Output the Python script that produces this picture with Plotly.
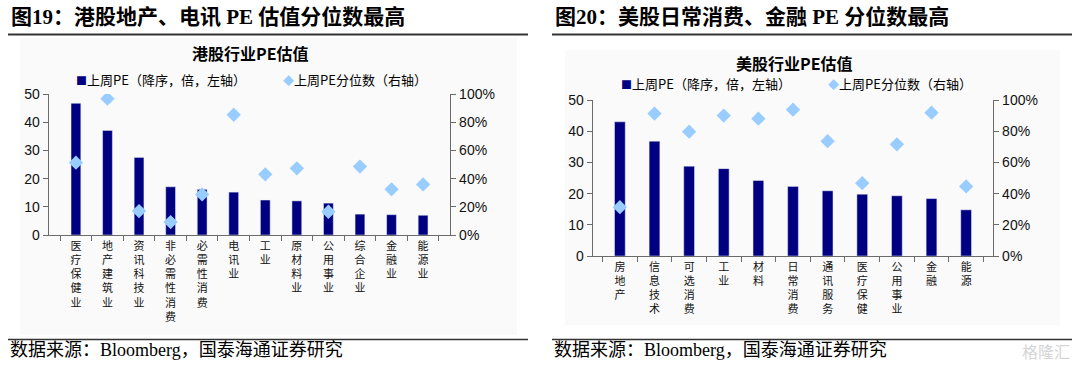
import plotly.graph_objects as go

W, H = 1080, 366

# ---------- data ----------
hk_categories = ["医疗保健业", "地产建筑业", "资讯科技业", "非必需性消费", "必需性消费", "电讯业",
                 "工业", "原材料业", "公用事业", "综合企业", "金融业", "能源业"]
hk_pe = [46.7, 37.1, 27.5, 17.1, 16.2, 15.2, 12.4, 12.1, 11.3, 7.4, 7.2, 7.0]
hk_pct = [0.513, 0.967, 0.170, 0.092, 0.288, 0.853, 0.430, 0.473, 0.165, 0.485, 0.324, 0.359]

us_categories = ["房地产", "信息技术", "可选消费", "工业", "材料", "日常消费",
                 "通讯服务", "医疗保健", "公用事业", "金融", "能源"]
us_pe = [43.0, 36.8, 28.8, 28.0, 24.2, 22.3, 20.9, 19.8, 19.3, 18.4, 14.8]
us_pct = [0.313, 0.913, 0.797, 0.900, 0.880, 0.938, 0.736, 0.467, 0.716, 0.919, 0.446]

pe_ticks = [0, 10, 20, 30, 40, 50]
pct_ticks = [0, 0.2, 0.4, 0.6, 0.8, 1.0]

# ---------- style ----------
BAR = "#000080"
DIA = "#99CCFF"
AX = "#6b6b6b"
SANS = "Liberation Sans, Arial, Noto Sans CJK SC, sans-serif"
SERIF = "Liberation Serif, Times New Roman, Noto Sans CJK SC, serif"
CJK = "Noto Sans CJK SC, sans-serif"


def px_x(p):
    return p / W


def px_y(p):
    return 1 - p / H


def vlabel(s):
    return "<br>".join(list(s))


hk_labels = [vlabel(c) for c in hk_categories]
us_labels = [vlabel(c) for c in us_categories]

fig = go.Figure()
fig.add_trace(go.Bar(x=hk_labels, y=hk_pe, marker_color=BAR, width=0.31,
                     xaxis="x", yaxis="y", showlegend=False))
fig.add_trace(go.Scatter(x=hk_labels, y=hk_pct, mode="markers",
                         marker=dict(symbol="diamond", size=11, color=DIA),
                         xaxis="x", yaxis="y2", showlegend=False))
fig.add_trace(go.Bar(x=us_labels, y=us_pe, marker_color=BAR, width=0.31,
                     xaxis="x3", yaxis="y3", showlegend=False))
fig.add_trace(go.Scatter(x=us_labels, y=us_pct, mode="markers",
                         marker=dict(symbol="diamond", size=11, color=DIA),
                         xaxis="x3", yaxis="y4", showlegend=False))

xcommon = dict(type="category", showline=True, linecolor=AX, linewidth=1.3,
               ticks="outside", tickson="boundaries", ticklen=5, tickcolor=AX,
               showgrid=False, zeroline=False, automargin=False,
               tickfont=dict(family=CJK, size=11, color="#111"), tickangle=0)
ycommon = dict(showline=True, linecolor=AX, linewidth=1.3, ticks="outside",
               ticklen=5, tickcolor=AX, showgrid=False, zeroline=False,
               automargin=False,
               tickfont=dict(family=SANS, size=14, color="#111"))

fig.update_layout(
    width=W, height=H, autosize=False, margin=dict(l=0, r=0, t=0, b=0, pad=0),
    paper_bgcolor="white", plot_bgcolor="rgba(0,0,0,0)",
    bargap=0.6,
    xaxis=dict(domain=[px_x(49), px_x(450)], anchor="y", **xcommon),
    yaxis=dict(domain=[px_y(235), px_y(94)], range=[0, 50], tickvals=pe_ticks,
               anchor="x", side="left", **ycommon),
    yaxis2=dict(range=[0, 1], tickvals=pct_ticks, tickformat=".0%",
                overlaying="y", anchor="x", side="right", **ycommon),
    xaxis3=dict(domain=[px_x(593), px_x(993)], anchor="y3", **xcommon),
    yaxis3=dict(domain=[px_y(256), px_y(100)], range=[0, 50], tickvals=pe_ticks,
                anchor="x3", side="left", **ycommon),
    yaxis4=dict(range=[0, 1], tickvals=pct_ticks, tickformat=".0%",
                overlaying="y3", anchor="x3", side="right", **ycommon),
)

shapes = []
# faint chart background boxes
shapes.append(dict(type="rect", xref="paper", yref="paper", layer="below",
                   x0=px_x(20), x1=px_x(517), y0=px_y(335), y1=px_y(38),
                   fillcolor="#fafafa", line=dict(width=0)))
shapes.append(dict(type="rect", xref="paper", yref="paper", layer="below",
                   x0=px_x(565), x1=px_x(1060), y0=px_y(325), y1=px_y(50),
                   fillcolor="#fafafa", line=dict(width=0)))
# title / source rules
for x0, x1 in [(8, 528), (552, 1072)]:
    shapes.append(dict(type="line", xref="paper", yref="paper",
                       x0=px_x(x0), x1=px_x(x1), y0=px_y(34.5), y1=px_y(34.5),
                       line=dict(color="#333", width=2)))
    shapes.append(dict(type="line", xref="paper", yref="paper",
                       x0=px_x(x0), x1=px_x(x1), y0=px_y(339.5), y1=px_y(339.5),
                       line=dict(color="#333", width=1.5)))
fig.update_layout(shapes=shapes)

ann = []


def add_text(text, x, y, size, family, xanchor="left", color="#000"):
    ann.append(dict(text=text, x=px_x(x), y=px_y(y), xref="paper", yref="paper",
                    xanchor=xanchor, yanchor="middle", showarrow=False,
                    font=dict(size=size, family=family, color=color)))


add_text("<b>图19：港股地产、电讯 PE 估值分位数最高</b>", 9, 17, 21, SERIF)
add_text("<b>图20：美股日常消费、金融 PE 分位数最高</b>", 553, 17, 21, SERIF)
add_text("<b>港股行业PE估值</b>", 250, 53, 16, CJK, xanchor="center")
add_text("<b>美股行业PE估值</b>", 794, 63, 16, CJK, xanchor="center")

leg1 = f"<span style='color:{BAR};font-size:11px'>■</span>上周PE（降序，倍，左轴）"
leg2 = f"<span style='color:{DIA};font-size:11px'>◆</span>上周PE分位数（右轴）"
add_text(leg1, 74, 79, 13, CJK)
add_text(leg2, 281, 79, 13, CJK)
add_text(leg1, 619, 83, 13, CJK)
add_text(leg2, 826, 83, 13, CJK)

src = "数据来源：Bloomberg，国泰海通证券研究"
add_text(src, 8, 350, 18, SERIF)
add_text(src, 552, 350, 18, SERIF)
add_text("格隆汇", 1072, 351, 16, CJK, xanchor="right", color="#d5d5d5")

fig.update_layout(annotations=ann)

fig.write_html(
    "out.html",
    config={"displayModeBar": False, "staticPlot": True},
    post_script=(
        "document.documentElement.style.margin='0';"
        "document.documentElement.style.overflow='hidden';"
        "document.body.style.margin='0';"
        "document.body.style.overflow='hidden';"
    ),
)
